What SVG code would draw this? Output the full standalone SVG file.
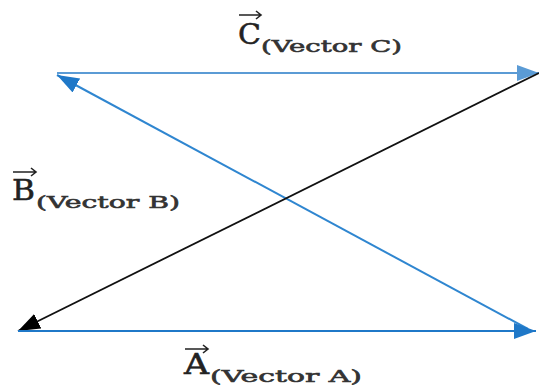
<svg xmlns="http://www.w3.org/2000/svg" width="539" height="390" viewBox="0 0 539 390">
<defs>
<style>
.main{font-family:"DejaVu Serif","Liberation Serif",serif;font-size:27px;fill:#222;stroke:#222;stroke-width:0.5}
.sub{font-family:"DejaVu Serif","Liberation Serif",serif;font-size:17px;fill:#333;stroke:#333;stroke-width:0.6}
.vec{stroke:#222;stroke-width:1.6;fill:none}
</style>
<marker id="hc" markerUnits="userSpaceOnUse" markerWidth="24" markerHeight="18" refX="22" refY="8" orient="auto"><path d="M0,0 L22,8 L0,16 Z" fill="#5b9bd5"/></marker>
<marker id="ha" markerUnits="userSpaceOnUse" markerWidth="24" markerHeight="18" refX="22" refY="8" orient="auto"><path d="M0,0 L22,8 L0,16 Z" fill="#1f78c8"/></marker>
<marker id="hd" markerUnits="userSpaceOnUse" markerWidth="24" markerHeight="18" refX="22" refY="8" orient="auto"><path d="M0,0 L22,8 L0,16 Z" fill="#1f78c8"/></marker>
<marker id="hb" markerUnits="userSpaceOnUse" markerWidth="24" markerHeight="18" refX="22" refY="8" orient="auto"><path d="M0,0 L22,8 L0,16 Z" fill="#000"/></marker>
</defs>
<g id="connectors">
<line x1="57" y1="73" x2="539" y2="73" stroke="#5b9bd5" stroke-width="2" marker-end="url(#hc)"/>
<line x1="528" y1="329" x2="57" y2="75" stroke="#2f86d0" stroke-width="2" marker-end="url(#hd)"/>
<line x1="539" y1="73" x2="18" y2="331" stroke="#111" stroke-width="1.8" marker-end="url(#hb)"/>
<line x1="18" y1="331" x2="536" y2="331" stroke="#1f78c8" stroke-width="2" marker-end="url(#ha)"/>
</g>
<g id="label-c">
<text class="main" x="238" y="44" textLength="23" lengthAdjust="spacingAndGlyphs">C</text>
<path class="vec" d="M239,15 L261,15 M256,11 L261,15 L256,19"/>
<text class="sub" x="261" y="52" textLength="141" lengthAdjust="spacingAndGlyphs">(Vector C)</text>
</g>
<g id="label-b">
<text class="main" x="12" y="200" textLength="23" lengthAdjust="spacingAndGlyphs">B</text>
<path class="vec" d="M13,172 L36,172 M31,168 L36,172 L31,176"/>
<text class="sub" x="36" y="208" textLength="144" lengthAdjust="spacingAndGlyphs">(Vector B)</text>
</g>
<g id="label-a">
<text class="main" x="184" y="374" textLength="25" lengthAdjust="spacingAndGlyphs">A</text>
<path class="vec" d="M185,349 L208,349 M203,345 L208,349 L203,353"/>
<text class="sub" x="210" y="382" textLength="152" lengthAdjust="spacingAndGlyphs">(Vector A)</text>
</g>
</svg>
